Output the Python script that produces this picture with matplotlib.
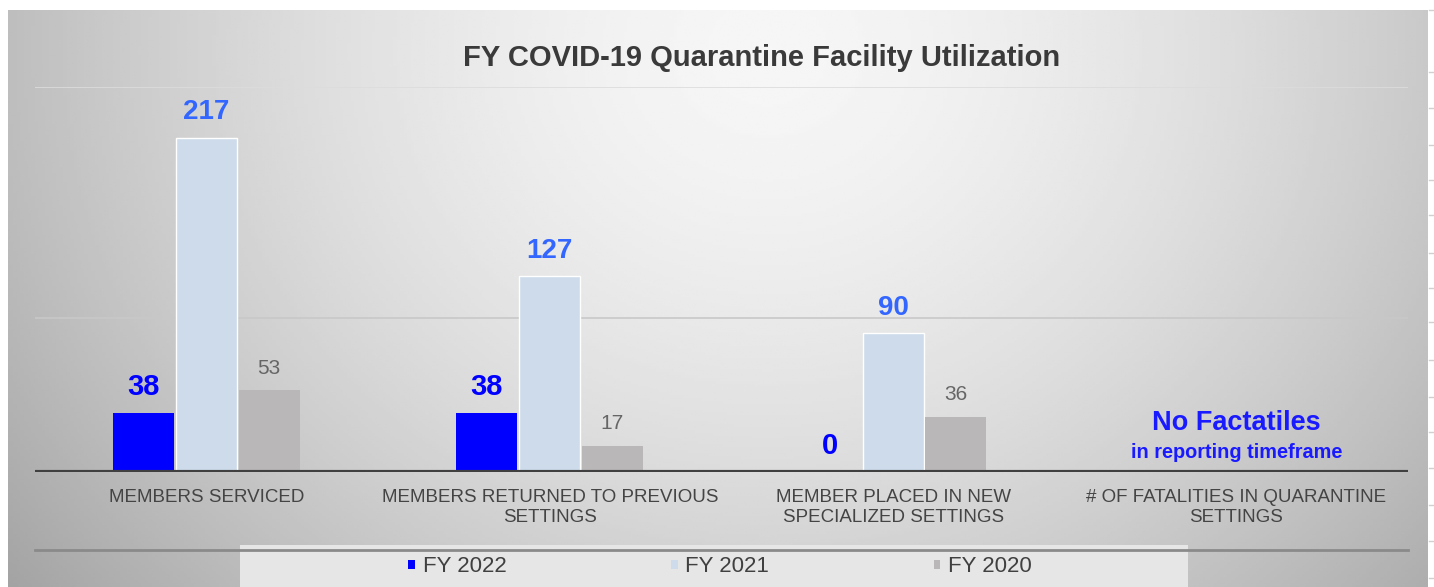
import numpy as np
import matplotlib
matplotlib.use("Agg")
import matplotlib.pyplot as plt
from matplotlib.patches import Rectangle
from matplotlib.lines import Line2D

plt.rcParams['font.family'] = ['Liberation Sans', 'DejaVu Sans']

categories = ["MEMBERS SERVICED", "MEMBERS RETURNED TO PREVIOUS\nSETTINGS",
              "MEMBER PLACED IN NEW\nSPECIALIZED SETTINGS", "# OF FATALITIES IN QUARANTINE\nSETTINGS"]
series_names = ["FY 2022", "FY 2021", "FY 2020"]
fy2022 = [38, 38, 0, None]
fy2021 = [217, 127, 90, None]
fy2020 = [53, 17, 36, None]
title = "FY COVID-19 Quarantine Facility Utilization"
note_main = "No Factatiles"
note_sub = "in reporting timeframe"

colors = ["#0000ff", "#cddbea", "#b9b7b8"]
label_colors = ["#0000ff", "#3366ff", "#666666"]
label_sizes = [21, 20, 15]
label_weights = ["bold", "bold", "normal"]

W, H = 1434, 587
fig = plt.figure(figsize=(W / 100, H / 100), dpi=100)
fig.patch.set_facecolor("white")

# background gradient panel
bg = fig.add_axes([8 / W, 0, 1420 / W, 577 / H])
bg.set_axis_off()
xx, yy = np.meshgrid(np.linspace(0, 1420, 400), np.linspace(0, 577, 200))
d = np.sqrt(((xx - 760) / 780) ** 2 + ((yy - 40) / 700) ** 2)
img = 0.965 - 0.23 * d ** 1.6
bg.imshow(img, cmap="gray", vmin=0, vmax=1, aspect="auto", extent=[0, 1, 0, 1], origin="upper")
bg.set_xlim(0, 1); bg.set_ylim(0, 1)

# legend backdrop
fig.patches.append(Rectangle((240 / W, 0), (1188 - 240) / W, (587 - 545) / H,
                             transform=fig.transFigure, facecolor="#e6e6e6", edgecolor="none", zorder=1))
fig.lines.append(Line2D([35 / W, 1408 / W], [1 - 550 / H, 1 - 550 / H], transform=fig.transFigure,
                        color="#8a8a8a", lw=2, zorder=2))

ax = fig.add_axes([35 / W, 115 / H, (1408 - 35) / W, (472 - 87) / H])
ax.patch.set_alpha(0)
ax.set_xlim(-0.5, 3.5)
ax.set_ylim(0, 250)

x = np.arange(len(categories))
width = 0.178
offsets = [-0.184, 0, 0.182]
handles = []
for i, (vals, name) in enumerate(zip([fy2022, fy2021, fy2020], series_names)):
    xs = [xi + offsets[i] for xi, v in zip(x, vals) if v is not None]
    vs = [v for v in vals if v is not None]
    bars = ax.bar(xs, vs, width=width, color=colors[i], edgecolor="white" if i == 1 else "none",
                  linewidth=1.0, zorder=3, label=name)
    handles.append(bars)
    for xb, v in zip(xs, vs):
        ax.annotate(str(v), (xb, v), xytext=(0, 9), textcoords="offset points",
                    ha="center", va="bottom", fontsize=label_sizes[i],
                    fontweight=label_weights[i], color=label_colors[i], zorder=4)

ax.axhline(100, color="#c8c8c8", lw=1.2, zorder=1)
ax.axhline(250, color="#dcdcdc", lw=1.2, zorder=1)
ax.axhline(0, color="#404040", lw=3, zorder=5)

for s in ax.spines.values():
    s.set_visible(False)
ax.set_yticks([])
ax.set_xticks(x)
ax.set_xticklabels(categories, fontsize=13.5, color="#444444", linespacing=1.25)
ax.tick_params(axis="x", length=0, pad=12)

ax.text(3, 23.5, note_main, ha="center", va="bottom", fontsize=19.5, fontweight="bold", color="#1a1aff")
ax.text(3, 19, note_sub, ha="center", va="top", fontsize=14.3, fontweight="bold", color="#1a1aff")

fig.text(762 / W, 1 - 58 / H, title, ha="center", va="center", fontsize=21,
         fontweight="bold", color="#3a3a3a")

handle_proxies = [Rectangle((0, 0), 1, 1, facecolor=c, edgecolor="none") for c in colors]
leg = fig.legend(handles=handle_proxies, labels=series_names, loc="center", ncol=3,
                 bbox_to_anchor=(720 / W, 1 - 567 / H), frameon=False, fontsize=16,
                 handlelength=0.3, handleheight=0.3, handletextpad=0.35, columnspacing=7.4,
                 labelcolor="#404040")

# right-hand strip row ticks
for yv in [10, 72, 108, 145, 180, 215, 253, 288, 322, 360, 397, 432, 468, 505, 541, 578]:
    fig.lines.append(Line2D([1429 / W, 1], [1 - yv / H, 1 - yv / H], transform=fig.transFigure,
                            color="#d0d0d0", lw=1))

fig.savefig("out.png", dpi=100)
